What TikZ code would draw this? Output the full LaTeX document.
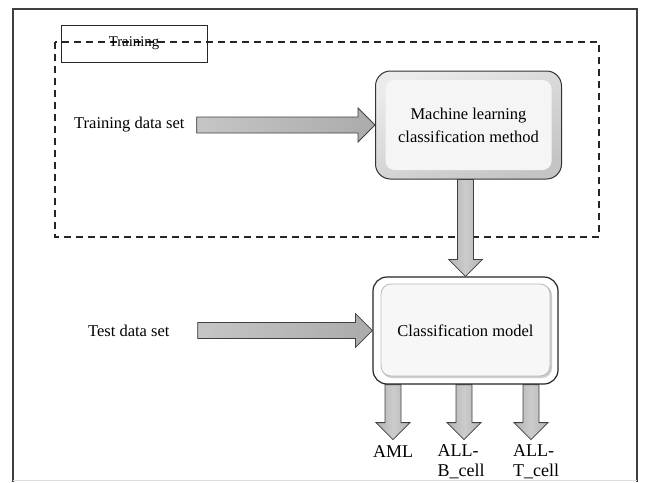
\documentclass[tikz,border=0pt]{standalone}
\usepackage{fontspec}
\setmainfont{Liberation Serif}
\usetikzlibrary{calc}

\tikzset{
  framestyle/.style={draw=black!75, line width=1.3pt},
  groupstyle/.style={draw=black!85, line width=1.1pt, dash pattern=on 7pt off 5pt},
  tagstyle/.style={draw=black!85, line width=1pt},
  txt/.style={inner sep=0pt, font=\fontsize{16.5}{23}\selectfont},
  tagtxt/.style={inner sep=0pt, font=\fontsize{14.8}{17}\selectfont},
  outtxt/.style={inner sep=0pt, align=left, font=\fontsize{18}{20}\selectfont},
  fatarrowstyle/.style={draw=black!75, line width=0.8pt, line join=miter},
  harrow/.style={left color=gray!45, right color=gray!66},
  varrow/.style={left color=gray!60, right color=gray!60, middle color=gray!40},
  mlbox/.style={rectangle, rounded corners=15pt, minimum width=186pt, minimum height=108pt,
    draw=black!80, line width=1pt, top color=gray!16, bottom color=gray!46, shading angle=25,
    align=center, font=\fontsize{16.5}{23}\selectfont,
    path picture={
      \fill[gray!8, rounded corners=9pt]
        ($(path picture bounding box.north west)+(10pt,-9pt)$) rectangle
        ($(path picture bounding box.south east)+(-10pt,9pt)$);
    }},
  cmbox/.style={rectangle, rounded corners=14pt, minimum width=185pt, minimum height=107pt,
    draw=black!85, line width=1.2pt, fill=white,
    align=center, font=\fontsize{16.5}{23}\selectfont,
    path picture={
      \fill[gray!40, rounded corners=10pt]
        ($(path picture bounding box.north west)+(9pt,-8pt)$) rectangle
        ($(path picture bounding box.south east)+(-6pt,6pt)$);
      \filldraw[fill=gray!6, draw=gray!55, line width=0.8pt, rounded corners=10pt]
        ($(path picture bounding box.north west)+(8pt,-7pt)$) rectangle
        ($(path picture bounding box.south east)+(-8pt,8pt)$);
    }},
}

% block arrow from #2 to the tip #3, with fill style #1
\newcommand\fatarrow[3]{%
  \coordinate (fa-base) at ($#3!17pt!#2$);
  \path[fatarrowstyle,#1]
    ($#2!8pt!90:#3$) -- ($(fa-base)!8pt!90:#3$) -- ($(fa-base)!17pt!90:#3$) -- #3
    -- ($(fa-base)!17pt!-90:#3$) -- ($(fa-base)!8pt!-90:#3$) -- ($#2!8pt!-90:#3$) -- cycle;
}

\begin{document}
\begin{tikzpicture}[x=1pt, y=-1pt]
  \useasboundingbox (0,0) rectangle (645,482);

  % outer frame
  \draw[framestyle] (13,482) -- (13,9) -- (637,9) -- (637,482);
  \draw[gray!25, line width=1pt] (13,480) -- (637,480);

  % training group
  \draw[groupstyle] (55,42) rectangle (599,237);
  \node[tagstyle, minimum width=146pt, minimum height=37pt, inner sep=0pt] (tag) at (134,43.5) {};
  \node[tagtxt] (tagtext) at (134,43) {Training};

  % blocks
  \node[mlbox] (ml) at (468.5,125) {Machine learning\\classification method};
  \node[cmbox] (cm) at (465.5,330.5) {Classification model};

  % inputs
  \node[txt, anchor=west] (trainset) at (74,125) {Training data set};
  \node[txt, anchor=west] (testset) at (88,330.5) {Test data set};

  \fatarrow{harrow}{($(trainset.east)+(12,0)$)}{(ml.west)}
  \fatarrow{harrow}{($(testset.east)+(28,0)$)}{(cm.west)}
  \fatarrow{varrow}{(cm.north |- ml.south)}{(cm.north)}

  % outputs
  \coordinate (tipA) at ($(cm.south)+(-72.5,55)$);
  \coordinate (tipB) at ($(cm.south)+(-1.5,55)$);
  \coordinate (tipT) at ($(cm.south)+(65.5,55)$);
  \fatarrow{varrow}{($(cm.south)+(-72.5,0)$)}{(tipA)}
  \fatarrow{varrow}{($(cm.south)+(-1.5,0)$)}{(tipB)}
  \fatarrow{varrow}{($(cm.south)+(65.5,0)$)}{(tipT)}

  \node[outtxt, anchor=north] (aml) at ($(tipA)+(0,6)$) {AML};
  \node[outtxt, anchor=north] (allb) at ($(tipB)+(-3,5)$) {ALL-\\B\_cell};
  \node[outtxt, anchor=north] (allt) at ($(tipT)+(5,5)$) {ALL-\\T\_cell};
\end{tikzpicture}
\end{document}
